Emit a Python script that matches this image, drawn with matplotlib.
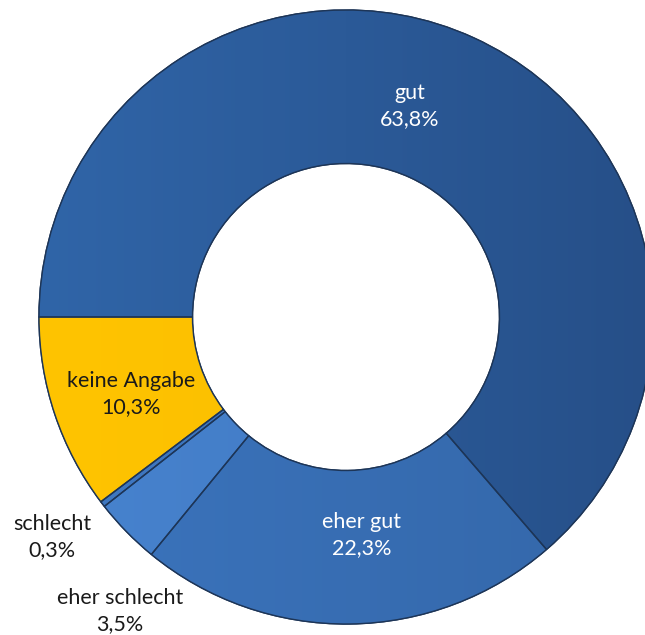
import numpy as np
import matplotlib
matplotlib.use("Agg")
import matplotlib.pyplot as plt

plt.rcParams['font.family'] = ['Lato', 'DejaVu Sans']

categories = ["gut", "eher gut", "eher schlecht", "schlecht", "keine Angabe"]
values = [63.8, 22.3, 3.5, 0.3, 10.3]
colors = ["#3065a8", "#3b74bd", "#4783cf", "#3f78c2", "#ffc400"]
shade_to = ["#264f88", "#3467a9", "#3f76bd", "#3a70b5", "#f7ba00"]
label_colors = ["white", "white", "#1a1a1a", "#1a1a1a", "#1a1a1a"]

W, H, DPI = 645, 635, 100
cx_px, cy_px, R_px = 346, 317, 307

fig = plt.figure(figsize=(W / DPI, H / DPI), dpi=DPI)
ax = fig.add_axes([0, 0, 1, 1])

wedges, _ = ax.pie(values, colors=colors, startangle=180, counterclock=False,
                   radius=1.0, wedgeprops=dict(width=0.5, edgecolor="#1d3557", linewidth=1.0))

x0, x1 = -cx_px / R_px, (W - cx_px) / R_px
y0, y1 = -(H - cy_px) / R_px, cy_px / R_px

# soft left-to-right shading inside each ring segment
gx = np.linspace(0, 1, 256)
grad = np.tile(gx, (2, 1))
for w, c0, c1 in zip(wedges, colors, shade_to):
    cmap = matplotlib.colors.LinearSegmentedColormap.from_list("s", [c0, c1])
    im = ax.imshow(grad, extent=(-1, 1, -1, 1), cmap=cmap, aspect="auto",
                   interpolation="bilinear", zorder=w.get_zorder() + 0.1)
    im.set_clip_path(w)
    edge = matplotlib.patches.PathPatch(w.get_path(), transform=w.get_transform(),
                                        facecolor="none", edgecolor="#1d3557",
                                        linewidth=1.0, zorder=w.get_zorder() + 0.2)
    ax.add_patch(edge)

ax.set_xlim(x0, x1)
ax.set_ylim(y0, y1)
ax.set_aspect("auto")
ax.axis("off")


def px(x, y):
    return (x - cx_px) / R_px, (cy_px - y) / R_px


def fmt(v):
    return f"{v:.1f}".replace(".", ",") + "%"


label_px = {
    "gut": (410, 106),
    "eher gut": (362, 535),
    "keine Angabe": (131, 394),
    "schlecht": (52, 537),
    "eher schlecht": (120, 611),
}
for cat, v, tc in zip(categories, values, label_colors):
    x, y = px(*label_px[cat])
    ax.text(x, y, f"{cat}\n{fmt(v)}", ha="center", va="center", color=tc,
            fontsize=15.5, linespacing=1.4, zorder=10)

fig.savefig("out.png", dpi=DPI)
